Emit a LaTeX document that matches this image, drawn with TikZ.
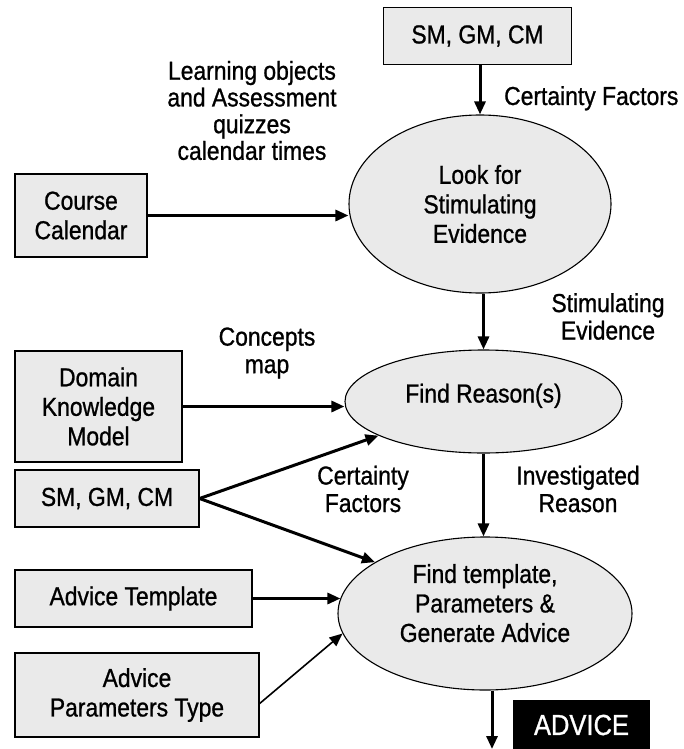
\documentclass[tikz,border=0pt]{standalone}
\usepackage{fontspec}
\setmainfont[FakeStretch=0.88, FakeBold=0.9]{Liberation Sans}
\usepackage{xcolor}
\usetikzlibrary{shapes.geometric, arrows.meta}
\definecolor{boxgray}{RGB}{234,234,234}

\begin{document}
\begin{tikzpicture}[
    x=1pt, y=-1pt,
    box/.style={rectangle, draw, line width=1.2pt, fill=boxgray, align=center, inner sep=0pt, font=\fontsize{26}{29.5}\selectfont},
    task/.style={ellipse, draw, line width=1.1pt, fill=boxgray, align=center, inner sep=0pt, font=\fontsize{26}{29.5}\selectfont},
    lbl/.style={align=center, inner sep=0pt, font=\fontsize{26}{27.5}\selectfont},
    arrow/.style={-{Triangle[length=13pt,width=11pt]}, line width=3pt},
    thinarrow/.style={-{Triangle[length=13pt,width=11pt]}, line width=1.6pt}
]
\useasboundingbox (0,0) rectangle (683,749);

% Input boxes
\node[box, minimum width=188pt, minimum height=57pt] (smtop) at (477.5,36) {SM, GM, CM};
\node[box, minimum width=132pt, minimum height=83pt] (cal) at (81,215.5) {Course\\Calendar};
\node[box, minimum width=167pt, minimum height=111pt] (dkm) at (98.5,406.5) {Domain\\Knowledge\\Model};
\node[box, minimum width=184pt, minimum height=57pt] (smlow) at (107,498.5) {SM, GM, CM};
\node[box, minimum width=237pt, minimum height=57pt] (tmpl) at (133.5,598.5) {Advice Template};
\node[box, minimum width=244pt, minimum height=84pt] (ptype) at (137,695) {Advice\\Parameters Type};

% Processes
\node[task, minimum width=262pt, minimum height=178pt] (look) at (480,204) {Look for\\Stimulating\\Evidence};
\node[task, minimum width=277pt, minimum height=103pt, text height=19pt, text depth=17pt] (reason) at (483.5,401.5) {Find Reason(s)};
\node[task, minimum width=294pt, minimum height=153pt, text depth=21pt] (gen) at (485,613.5) {Find template,\\Parameters \&\\Generate Advice};

% Output
\node[fill=black, text=white, minimum width=137pt, minimum height=50pt, inner sep=0pt, font=\fontsize{29}{30}\selectfont] (advice) at (581.5,725) {ADVICE};
\coordinate (advout) at (492,749);

% Flow labels
\node[lbl, font=\fontsize{26}{26.7}\selectfont] (lobj) at (252,110.5) {Learning objects\\and Assessment\\quizzes\\calendar times};
\node[lbl, anchor=base west] (cfa) at (504,105) {Certainty Factors};
\node[lbl] (stev) at (608,316.5) {Stimulating\\Evidence};
\node[lbl] (cmap) at (267,353) {Concepts\\map};
\node[lbl] (cfb) at (363,489) {Certainty\\Factors};
\node[lbl] (invr) at (578,489) {Investigated\\Reason};

% Arrows
\draw[arrow] (smtop.south -| look.north) -- (look.north);
\draw[arrow] (cal.east) -- (cal.east -| look.west);
\draw[arrow] (look.south -| reason.north) -- (reason.north);
\draw[arrow] (dkm.east) -- (dkm.east -| reason.west);
\draw[arrow] (smlow.east) -- (reason.198);
\draw[arrow] (smlow.east) -- (gen.155);
\draw[arrow] (reason.south) -- (reason.south |- gen.north);
\draw[arrow] (tmpl.east) -- ([xshift=3pt]gen.west |- tmpl.east);
\draw[thinarrow] (ptype.-4) -- (gen.188);
\draw[arrow] (gen.south -| advout) -- (advout);

\end{tikzpicture}
\end{document}
